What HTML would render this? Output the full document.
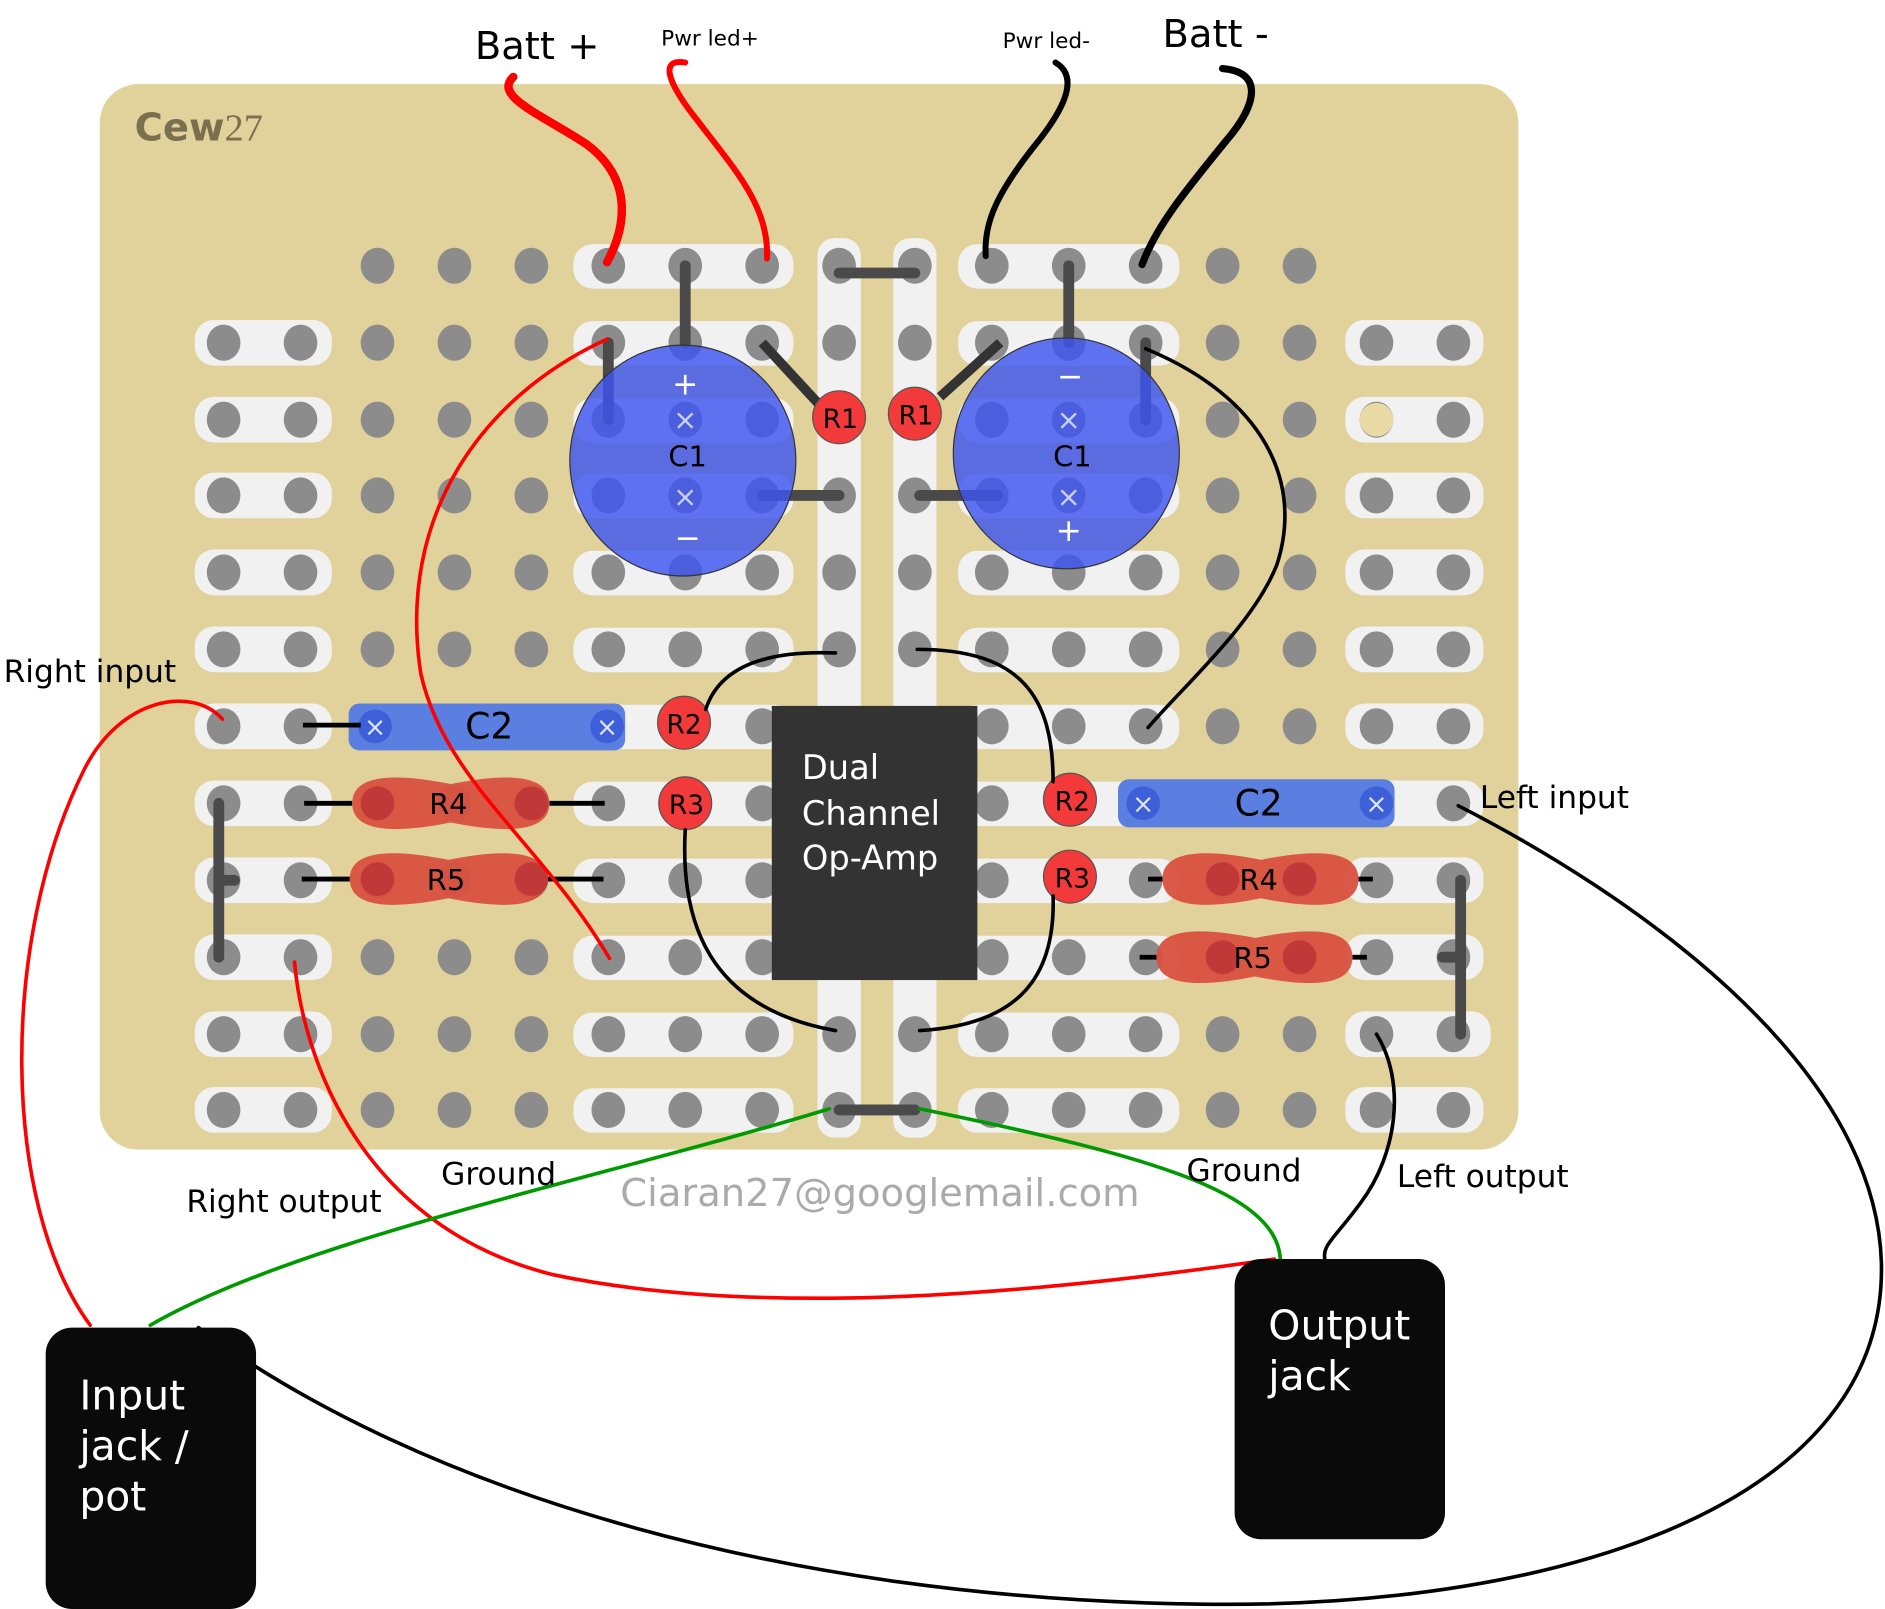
<!DOCTYPE html>
<html><head><meta charset="utf-8"><style>html,body{margin:0;padding:0;background:#fff;overflow:hidden}svg{display:block}text{font-family:"DejaVu Sans","Liberation Sans",sans-serif}</style></head>
<body>
<svg id="s" xmlns="http://www.w3.org/2000/svg" width="1885" height="1609" viewBox="0 0 1568 1338" preserveAspectRatio="none">
<rect x="83" y="70" width="1180" height="886" rx="32" fill="#e0d29a"/>
<g id="strips" fill="#f1f1f1"></g>
<rect x="680" y="198" width="36" height="748" rx="14" fill="#f1f1f1"/>
<rect x="743" y="198" width="36" height="748" rx="14" fill="#f1f1f1"/>
<g id="holes" fill="#8c8c8c"></g>
<circle cx="1145" cy="349" r="14" fill="#eadba6"/>
<!-- jumpers -->
<g stroke="#4a4a4a" stroke-width="9" stroke-linecap="round" fill="none">
<line x1="698" y1="227" x2="761" y2="227"/>
<line x1="570" y1="221" x2="570" y2="285"/>
<line x1="889" y1="221" x2="889" y2="285"/>
<line x1="506" y1="285" x2="506" y2="349"/>
<line x1="953" y1="285" x2="953" y2="349"/>
<line x1="634" y1="412" x2="698" y2="412"/>
<line x1="765" y1="412" x2="830" y2="412"/>
<line x1="182" y1="668" x2="182" y2="796"/>
<line x1="182" y1="732" x2="195" y2="732"/>
<line x1="1215" y1="732" x2="1215" y2="860"/>
<line x1="1200" y1="796" x2="1215" y2="796"/>
<line x1="698" y1="923" x2="761" y2="923"/>
</g>
<g stroke="#333" stroke-width="8" fill="none">
<line x1="634" y1="285" x2="682" y2="337"/>
<line x1="832" y1="285" x2="782" y2="330"/>
</g>
<!-- C1 -->
<g stroke="#333" stroke-width="1">
<ellipse cx="568" cy="383" rx="94" ry="96" fill="#3d55f0" fill-opacity="0.82"/>
<ellipse cx="887" cy="377" rx="94" ry="96" fill="#3d55f0" fill-opacity="0.82"/>
</g>
<g fill="#fff" font-size="26" text-anchor="middle">
<text x="570" y="328">+</text><text x="572" y="456">−</text>
<text x="890" y="322">−</text><text x="889" y="450">+</text>
</g>
<g fill="#c8d0ff" font-size="24" text-anchor="middle">
<text x="570" y="357">×</text><text x="570" y="421">×</text>
<text x="889" y="357">×</text><text x="889" y="421">×</text>
</g>
<text x="572" y="388" font-size="24" text-anchor="middle" fill="#000">C1</text>
<text x="892" y="388" font-size="24" text-anchor="middle" fill="#000">C1</text>
<!-- C2 -->
<rect x="290" y="585" width="230" height="39" rx="9" fill="#5a7fe0"/>
<rect x="930" y="648" width="230" height="40" rx="9" fill="#5a7fe0"/>
<g fill="#3d5fd8"><circle cx="312" cy="604" r="14"/><circle cx="505" cy="604" r="14"/><circle cx="951" cy="668" r="14"/><circle cx="1145" cy="668" r="14"/></g>
<g fill="#dde4ff" font-size="22" text-anchor="middle">
<text x="312" y="612">×</text><text x="505" y="612">×</text><text x="951" y="676">×</text><text x="1145" y="676">×</text></g>
<text x="407" y="614" font-size="30" text-anchor="middle">C2</text>
<text x="1047" y="678" font-size="30" text-anchor="middle">C2</text>
<!-- resistor leads -->
<g stroke="#000" stroke-width="4">
<line x1="252" y1="603" x2="300" y2="603"/>
<line x1="253" y1="668" x2="293" y2="668"/><line x1="457" y1="668" x2="503" y2="668"/>
<line x1="251" y1="731" x2="291" y2="731"/><line x1="455" y1="731" x2="502" y2="731"/>
<line x1="955" y1="731" x2="967" y2="731"/><line x1="1130" y1="731" x2="1142" y2="731"/>
<line x1="948" y1="796" x2="962" y2="796"/><line x1="1125" y1="796" x2="1137" y2="796"/>
</g>
<!-- R4/R5 blobs -->
<g fill="#d9503f" fill-opacity="0.95">
<path d="M293,668 C293,640 340,645 375,652 C410,645 457,640 457,668 C457,696 410,691 375,684 C340,691 293,696 293,668Z"/>
<path d="M291,731 C291,703 338,708 373,715 C408,708 455,703 455,731 C455,759 408,754 373,747 C338,754 291,759 291,731Z"/>
<path d="M967,731 C967,703 1014,708 1049,715 C1084,708 1130,703 1130,731 C1130,759 1084,754 1049,747 C1014,754 967,759 967,731Z"/>
<path d="M962,796 C962,768 1009,773 1044,780 C1079,773 1125,768 1125,796 C1125,824 1079,819 1044,812 C1009,819 962,824 962,796Z"/>
</g>
<g fill="#c03838"><circle cx="314" cy="668" r="14"/><circle cx="442" cy="668" r="14"/><circle cx="314" cy="731" r="14"/><circle cx="442" cy="731" r="14"/><circle cx="1017" cy="731" r="14"/><circle cx="1081" cy="731" r="14"/><circle cx="1017" cy="796" r="14"/><circle cx="1081" cy="796" r="14"/></g>
<g font-size="24" text-anchor="middle"><text x="373" y="677">R4</text><text x="371" y="740">R5</text><text x="1047" y="740">R4</text><text x="1042" y="805">R5</text></g>
<!-- small resistors -->
<g fill="#f23a3a" stroke="#555" stroke-width="1">
<circle cx="698" cy="347" r="22"/><circle cx="761" cy="344" r="22"/>
<circle cx="569" cy="601" r="22"/><circle cx="570" cy="668" r="22"/>
<circle cx="890" cy="665" r="22"/><circle cx="890" cy="729" r="22"/>
</g>
<g font-size="22" text-anchor="middle">
<text x="699" y="356">R1</text><text x="762" y="353">R1</text>
<text x="569" y="610">R2</text><text x="571" y="677">R3</text>
<text x="892" y="674">R2</text><text x="892" y="738">R3</text>
</g>
<!-- chip -->
<rect x="642" y="587" width="171" height="228" fill="#333"/>
<g fill="#fff" font-size="28"><text x="667" y="648">Dual</text><text x="667" y="686">Channel</text><text x="667" y="723">Op-Amp</text></g>
<!-- wires -->
<g fill="none" stroke-linecap="round">
<path d="M427,64 C410,80 450,95 488,120 C528,150 520,190 505,218" stroke="#f00" stroke-width="7"/>
<path d="M570,52 C545,48 560,75 580,100 C612,142 640,172 638,215" stroke="#f00" stroke-width="5"/>
<path d="M878,52 C900,65 882,95 860,122 C830,160 818,185 820,213" stroke="#000" stroke-width="5"/>
<path d="M1017,57 C1052,60 1045,88 1020,117 C985,160 962,188 950,220" stroke="#000" stroke-width="6"/>
<path d="M505,282 C400,330 330,430 350,560 C370,650 450,700 507,797" stroke="#f00" stroke-width="3"/>
<path d="M953,290 C1050,330 1085,400 1062,470 C1042,520 985,570 955,605" stroke="#000" stroke-width="3"/>
<path d="M695,543 C620,540 595,565 587,590" stroke="#000" stroke-width="3"/>
<path d="M763,540 C850,540 876,580 876,650" stroke="#000" stroke-width="3"/>
<path d="M570,690 C565,780 600,840 695,857" stroke="#000" stroke-width="3"/>
<path d="M876,745 C878,810 850,852 765,857" stroke="#000" stroke-width="3"/>
<path d="M185,598 C160,570 100,580 70,640 C0,780 0,1000 75,1102" stroke="#f00" stroke-width="3"/>
<path d="M245,800 C252,880 300,1020 460,1060 C650,1100 900,1070 1060,1047" stroke="#f00" stroke-width="3"/>
<path d="M690,922 C500,980 250,1030 125,1102" stroke="#090" stroke-width="3"/>
<path d="M765,922 C950,960 1062,990 1065,1047" stroke="#090" stroke-width="3"/>
<path d="M1145,860 C1170,900 1162,960 1132,1000 C1110,1030 1100,1035 1102,1047" stroke="#000" stroke-width="3"/>
<path d="M1213,670 C1350,740 1560,880 1565,1050 C1570,1250 1300,1338 1000,1334 C650,1330 350,1240 165,1104" stroke="#000" stroke-width="3"/>
</g>
<!-- jacks -->
<rect x="38" y="1104" width="175" height="234" rx="22" fill="#0a0a0a"/>
<rect x="1027" y="1047" width="175" height="233" rx="22" fill="#0a0a0a"/>
<g fill="#fff" font-size="34"><text x="66" y="1172">Input</text><text x="66" y="1214">jack /</text><text x="66" y="1256">pot</text>
<text x="1055" y="1114">Output</text><text x="1055" y="1156">jack</text></g>
<!-- labels -->
<text x="395" y="49" font-size="32">Batt +</text>
<text x="550" y="38" font-size="18">Pwr led+</text>
<text x="834" y="40" font-size="18">Pwr led-</text>
<text x="967" y="39" font-size="32">Batt -</text>
<text x="112" y="117" font-size="32" fill="#7a7050" font-weight="bold">Cew<tspan font-family="Liberation Serif,serif" font-weight="normal">27</tspan></text>
<text x="3" y="567" font-size="26">Right input</text>
<text x="1231" y="672" font-size="26">Left input</text>
<text x="367" y="985" font-size="26">Ground</text>
<text x="987" y="982" font-size="26">Ground</text>
<text x="155" y="1008" font-size="26">Right output</text>
<text x="1162" y="987" font-size="26">Left output</text>
<text x="516" y="1003" font-size="32" fill="#aaa">Ciaran27@googlemail.com</text>
</svg>
<script>
(function(){
var ns="http://www.w3.org/2000/svg";
var cols=[186,250,314,378,442,506,570,634,698,761,825,889,953,1017,1081,1145,1209];
var rows=[221,285,349,412,476,540,604,668,732,796,860,923];
var S=document.getElementById("strips"),H=document.getElementById("holes");
function r(x,y,w,h){var e=document.createElementNS(ns,"rect");e.setAttribute("x",x);e.setAttribute("y",y);e.setAttribute("width",w);e.setAttribute("height",h);e.setAttribute("rx",16);S.appendChild(e);}
rows.forEach(function(y,i){
 r(477,y-18,183,37);r(797,y-18,184,37);
 if(i>0){r(162,y-19,114,38);r(1119,y-19,i==10?121:115,38);}
 cols.forEach(function(x,j){
  if(i==0&&(j<2||j>14))return;
  var c=document.createElementNS(ns,"ellipse");c.setAttribute("cx",x);c.setAttribute("cy",y);c.setAttribute("rx",14);c.setAttribute("ry",15);H.appendChild(c);
 });
});
})();
</script>
</body></html>
